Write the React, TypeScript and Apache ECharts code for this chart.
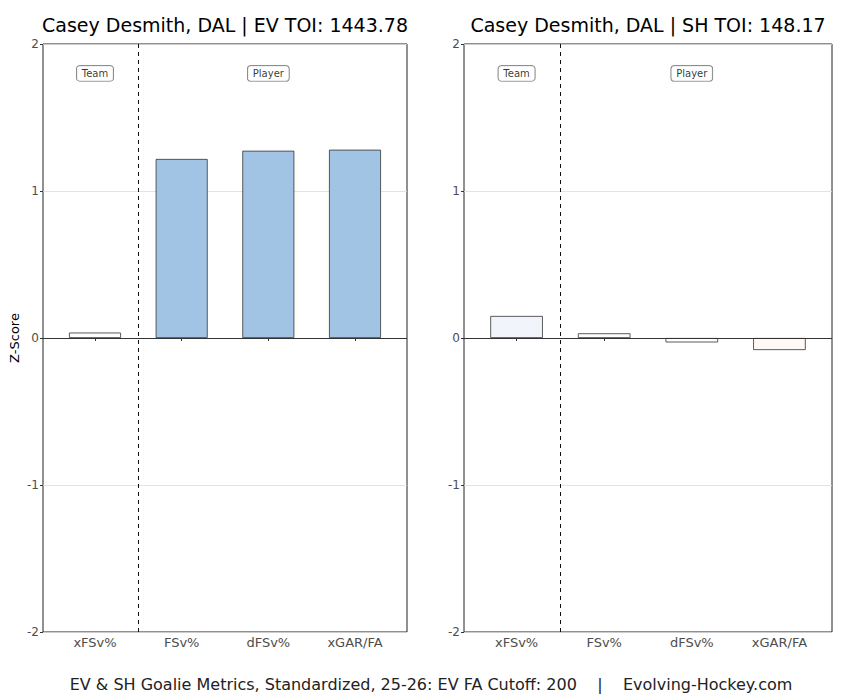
import React, { useEffect, useRef } from "react";
import * as echarts from "echarts";

const categories = ["xFSv%", "FSv%", "dFSv%", "xGAR/FA"];
const evValues = [0.037, 1.218, 1.274, 1.281];
const shValues = [0.15, 0.032, -0.03, -0.082];
const evColors = ["#fcfdfe", "#a2c4e4", "#a2c4e4", "#a2c4e4"];
const shColors = ["#f1f5fb", "#fcfdfe", "#fffefd", "#fff9f5"];
const evTitle = "Casey Desmith, DAL | EV TOI: 1443.78";
const shTitle = "Casey Desmith, DAL | SH TOI: 148.17";
const groupLabels = [
  { x: 1, y: 1.8, text: "Team" },
  { x: 3, y: 1.8, text: "Player" },
];
const yTicks = [-2, -1, 0, 1, 2];
const caption =
  "EV & SH Goalie Metrics, Standardized, 25-26: EV FA Cutoff: 200\u00a0\u00a0\u00a0\u00a0|\u00a0\u00a0\u00a0\u00a0Evolving-Hockey.com";

const FONT = "DejaVu Sans";

export default function App() {
  const ref = useRef<HTMLDivElement>(null);
  useEffect(() => {
    document.body.style.margin = "0";
    if (!ref.current) return;
    const chart = echarts.init(ref.current, undefined, { renderer: "svg" });
    const grids = [
      { left: 43, top: 44, width: 364, height: 588 },
      { left: 464, top: 44, width: 368, height: 588 },
    ];
    const xMin = 0.4;
    const xMax = 4.6;
    const panels = [
      { values: evValues, colors: evColors, title: evTitle },
      { values: shValues, colors: shColors, title: shTitle },
    ];
    const xAxis: any[] = [];
    const yAxis: any[] = [];
    const series: any[] = [];
    const graphic: any[] = [];
    panels.forEach((p, i) => {
      const g = grids[i];
      xAxis.push({
        type: "value",
        gridIndex: i,
        min: xMin,
        max: xMax,
        axisLine: { show: false },
        splitLine: { show: false },
        axisTick: {
          show: true,
          customValues: [1, 2, 3, 4],
          length: 3,
          lineStyle: { color: "#333" },
        },
        axisLabel: {
          customValues: [1, 2, 3, 4],
          formatter: (v: number) => categories[Math.round(v) - 1] ?? "",
          color: "#4d4d4d",
          fontSize: 13,
          fontFamily: FONT,
          margin: 4,
        },
      });
      yAxis.push({
        type: "value",
        gridIndex: i,
        min: -2,
        max: 2,
        interval: 1,
        name: i === 0 ? "Z-Score" : "",
        nameLocation: "middle",
        nameGap: 22,
        nameRotate: 90,
        nameTextStyle: { fontSize: 13, color: "#000", fontFamily: FONT },
        axisLine: { show: false },
        axisTick: { show: true, length: 3, lineStyle: { color: "#333" } },
        axisLabel: {
          color: "#4d4d4d",
          fontSize: 12,
          fontFamily: FONT,
          margin: 4,
          formatter: (v: number) => (yTicks.includes(v) ? String(v) : ""),
        },
        splitLine: { show: true, lineStyle: { color: "#dcdcdc", width: 0.8 } },
      });
      const barW = (0.6 * g.width) / (xMax - xMin);
      series.push({
        type: "bar",
        xAxisIndex: i,
        yAxisIndex: i,
        barWidth: barW,
        data: p.values.map((v, k) => ({
          value: [k + 1, v],
          itemStyle: { color: p.colors[k], borderColor: "#333", borderWidth: 0.8 },
        })),
        markLine: {
          silent: true,
          symbol: "none",
          label: { show: false },
          data: [
            { yAxis: 0, lineStyle: { color: "#333", width: 1, type: "solid" } },
            { xAxis: 1.5, lineStyle: { color: "#111", width: 1, type: [4, 4] } },
          ],
        },
        z: 2,
      });
      series.push({
        type: "scatter",
        xAxisIndex: i,
        yAxisIndex: i,
        symbolSize: 1,
        itemStyle: { color: "rgba(0,0,0,0)" },
        data: groupLabels.map((l) => ({ value: [l.x, l.y], name: l.text })),
        label: {
          show: true,
          position: "inside",
          formatter: (d: any) => d.name,
          fontSize: 10,
          fontFamily: FONT,
          color: "#000",
          backgroundColor: "#fff",
          borderColor: "#444",
          borderWidth: 0.7,
          borderRadius: 3,
          padding: [3, 5, 2, 5],
        },
        z: 5,
      });
      graphic.push({
        type: "text",
        x: g.left + g.width / 2,
        y: 25,
        style: {
          text: p.title,
          fontSize: 19,
          fontFamily: FONT,
          fill: "#000",
          textAlign: "center",
          textVerticalAlign: "middle",
        },
      });
    });
    graphic.push({
      type: "text",
      x: 431,
      y: 684,
      style: {
        text: caption,
        fontSize: 16,
        fontFamily: FONT,
        fill: "#222",
        textAlign: "center",
        textVerticalAlign: "middle",
      },
    });
    chart.setOption({
      animation: false,
      backgroundColor: "#fff",
      grid: grids.map((g) => ({
        ...g,
        show: true,
        borderColor: "#222",
        borderWidth: 1,
        backgroundColor: "transparent",
        containLabel: false,
      })),
      xAxis,
      yAxis,
      series,
      graphic,
    });
    return () => chart.dispose();
  }, []);
  return <div ref={ref} style={{ width: 850, height: 700 }} />;
}
